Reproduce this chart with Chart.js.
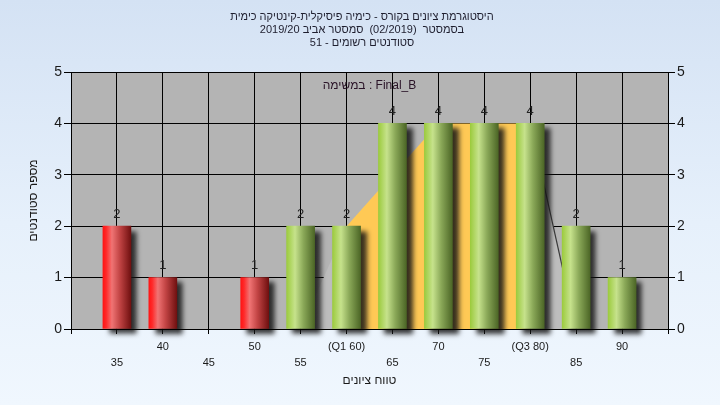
<!DOCTYPE html>
<html><head><meta charset="utf-8">
<script src="https://cdn.jsdelivr.net/npm/chart.js@4"></script>
<style>
html,body{margin:0;padding:0;}
body{width:720px;height:405px;background:linear-gradient(180deg,#d4e2f4 0%,#e6f0fb 55%,#f0f7fe 100%);overflow:hidden;}
#c{display:block;}
</style>
</head><body>
<canvas id="c" width="720" height="405"></canvas>
<script>
// ---- data ----
const titleLines = [
  'היסטוגרמת ציונים בקורס - כימיה פיסיקלית-קינטיקה כימית',
  'בסמסטר  (02/2019)  סמסטר אביב 2019/20',
  'סטודנטים רשומים - 51'
];
const taskLabel = 'במשימה : Final_B';
const xTitle = 'טווח ציונים';
const yTitle = 'מספר סטודנטים';
const categories = [35, 40, 45, 50, 55, 60, 65, 70, 75, 80, 85, 90];
const counts     = [2, 1, 0, 1, 2, 2, 4, 4, 4, 4, 2, 1];
const tickLabels = ['35', '40', '45', '50', '55', '(Q1 60)', '65', '70', '75', '(Q3 80)', '85', '90'];
const curveX = [55, 60, 65, 70, 75, 80, 85];
const curveY = [0, 2, 3, 4, 4, 4, 0];
const passMark = 55;
const q1 = 60, q3 = 80;
const xMin = 30, xMax = 95, yMax = 5;

// ---- helpers ----
const FONT = "'Liberation Sans', Arial, sans-serif";
function barGradient(ctx, cx, w, fail) {
  const g = ctx.createLinearGradient(cx - w / 2, 0, cx + w / 2, 0);
  if (fail) {
    g.addColorStop(0, '#ff1414');
    g.addColorStop(0.12, '#ff2a2a');
    g.addColorStop(0.32, '#f07474');
    g.addColorStop(0.6, '#c24444');
    g.addColorStop(1, '#701010');
  } else {
    g.addColorStop(0, '#9ccb3e');
    g.addColorStop(0.3, '#c6e28c');
    g.addColorStop(0.6, '#8aa858');
    g.addColorStop(1, '#4c6626');
  }
  return g;
}

const innerYellow = curveX.map((x, i) => ({x, y: (x >= q1 && x <= q3) ? curveY[i] : null}));
const outerGray = curveX.map((x, i) => ({x, y: (x <= q1 || x >= q3) ? curveY[i] : null}));

const plotBg = {
  id: 'plotBg',
  beforeDraw(chart) {
    const {ctx, chartArea: a} = chart;
    ctx.save();
    ctx.fillStyle = '#b4b4b4';
    ctx.fillRect(a.left, a.top, a.right - a.left, a.bottom - a.top);
    ctx.restore();
  }
};
const barShadow = {
  id: 'barShadow',
  beforeDatasetDraw(chart, args) {
    if (args.index !== 0) return;
    const ctx = chart.ctx;
    ctx.save();
    ctx.shadowColor = 'rgba(20,20,20,0.85)';
    ctx.shadowBlur = 5;
    ctx.shadowOffsetX = 6;
    ctx.shadowOffsetY = 5;
  },
  afterDatasetDraw(chart, args) {
    if (args.index !== 0) return;
    chart.ctx.restore();
  }
};
const texts = {
  id: 'texts',
  afterDatasetsDraw(chart) {
    const {ctx, chartArea: a} = chart;
    ctx.save();
    ctx.strokeStyle = '#000';
    ctx.lineWidth = 1;
    ctx.beginPath();
    ctx.moveTo(a.left, a.bottom + 0.5);
    ctx.lineTo(a.right, a.bottom + 0.5);
    ctx.stroke();
    const meta = chart.getDatasetMeta(0);
    ctx.fillStyle = '#222';
    ctx.font = '13px ' + FONT;
    ctx.textAlign = 'center';
    ctx.textBaseline = 'middle';
    meta.data.forEach((el, i) => {
      if (counts[i] > 0) ctx.fillText(String(counts[i]), el.x, el.y - 12);
    });
    ctx.direction = 'ltr';
    ctx.font = '12px ' + FONT;
    ctx.fillStyle = '#2a1428';
    ctx.fillText(taskLabel, (a.left + a.right) / 2, 86);
    ctx.restore();
  },
  afterDraw(chart) {
    const ctx = chart.ctx;
    ctx.save();
    ctx.direction = 'rtl';
    ctx.font = '11px ' + FONT;
    ctx.fillStyle = '#1e1e2e';
    ctx.textAlign = 'center';
    ctx.textBaseline = 'middle';
    titleLines.forEach((t, i) => ctx.fillText(t, 362, 17 + i * 13));
    ctx.restore();
  }
};

new Chart(document.getElementById('c'), {
  data: {
    datasets: [
      {
        type: 'bar',
        data: categories.map((x, i) => ({x, y: counts[i]})),
        barThickness: 28,
        order: 1,
        clip: false,
        backgroundColor: (c) => {
          const chart = c.chart;
          if (c.type !== 'data' || !c.raw || !chart.scales || !chart.scales.x) return '#8aa858';
          if (!c.raw.y) return 'rgba(0,0,0,0)';
          const x = c.raw.x;
          const cx = chart.scales.x.getPixelForValue(x);
          if (!isFinite(cx)) return x < passMark ? '#d03030' : '#8aa858';
          return barGradient(chart.ctx, cx, 28, x < passMark);
        },
        borderWidth: 0
      },
      {
        type: 'line',
        data: innerYellow,
        order: 2,
        fill: 'origin',
        backgroundColor: '#ffc955',
        borderWidth: 0,
        pointRadius: 0,
        spanGaps: false,
        tension: 0
      },
      {
        type: 'line',
        data: outerGray,
        order: 3,
        fill: 'origin',
        backgroundColor: '#bdbdbd',
        borderWidth: 1.2,
        borderColor: '#3a3a3a',
        segment: {
          borderColor: (s) => s.p0.parsed.x >= q3 ? '#3a3a3a' : 'rgba(0,0,0,0)'
        },
        pointRadius: 0,
        spanGaps: false,
        tension: 0
      }
    ]
  },
  options: {
    responsive: false,
    animation: false,
    devicePixelRatio: 1,
    layout: {padding: {top: 72, left: 26, right: 0, bottom: 17}},
    plugins: {legend: {display: false}, tooltip: {enabled: false}, title: {display: false}},
    scales: {
      x: {
        type: 'linear',
        offset: false,
        min: xMin, max: xMax,
        afterFit: (s) => { s.height = 405 - 17 - 329; },
        grid: {color: '#000', lineWidth: 1, tickLength: 5, drawTicks: true, offset: false},
        border: {color: '#000'},
        ticks: {
          stepSize: 5,
          autoSkip: false,
          maxRotation: 0,
          padding: 5,
          color: '#1a1a1a',
          font: {size: 11, family: FONT, lineHeight: '16px'},
          callback: (v) => {
            const i = categories.indexOf(v);
            if (i < 0) return '';
            return (i % 2 === 1) ? [tickLabels[i]] : ['', tickLabels[i]];
          }
        },
        title: {display: true, text: xTitle, color: '#1a1a1a', font: {size: 12, family: FONT}, padding: 0}
      },
      y: {
        position: 'left',
        min: 0, max: yMax,
        afterFit: (s) => { s.width = 71 - 26; },
        grid: {color: '#000', lineWidth: 1, tickLength: 7},
        border: {color: '#000'},
        ticks: {stepSize: 1, padding: 2, color: '#1a1a1a', font: {size: 14, family: FONT}},
        title: {display: true, text: yTitle, color: '#1a1a1a', font: {size: 12, family: FONT}, padding: 0}
      },
      y2: {
        position: 'right',
        min: 0, max: yMax,
        afterFit: (s) => { s.width = 720 - 668; },
        grid: {drawOnChartArea: false, color: '#000', tickLength: 7},
        border: {color: '#000'},
        ticks: {stepSize: 1, padding: 2, color: '#1a1a1a', font: {size: 14, family: FONT}}
      }
    }
  },
  plugins: [plotBg, barShadow, texts]
});
</script>
</body></html>
